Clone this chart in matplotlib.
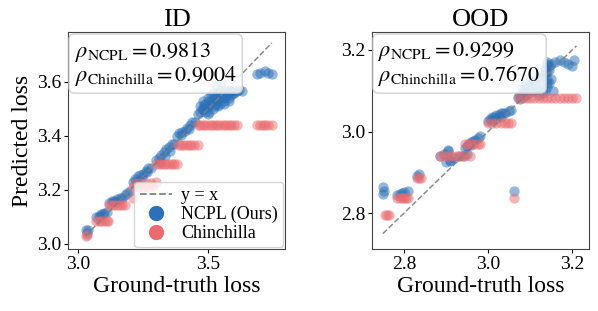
import numpy as np
import matplotlib
matplotlib.use("Agg")
import matplotlib.pyplot as plt
from matplotlib.lines import Line2D

plt.rcParams['font.family'] = ['Liberation Serif', 'DejaVu Serif']
plt.rcParams['mathtext.fontset'] = 'stix'

# ---------------- ID data ----------------
id_ncpl_x = [3.03, 3.035, 3.04,
             3.07, 3.08, 3.09, 3.10, 3.11, 3.085, 3.095,
             3.12, 3.13, 3.14, 3.15, 3.16, 3.17, 3.18, 3.135, 3.155,
             3.19, 3.20,
             3.21, 3.22, 3.23, 3.24, 3.25, 3.26, 3.27, 3.28, 3.225, 3.245, 3.265,
             3.30, 3.31, 3.32, 3.33, 3.34, 3.35, 3.36, 3.37, 3.315, 3.335, 3.355,
             3.38, 3.39, 3.40, 3.41, 3.42, 3.43, 3.44, 3.45, 3.395, 3.425,
             3.46, 3.47, 3.47, 3.48, 3.48, 3.49, 3.49, 3.50, 3.50, 3.51, 3.51, 3.52, 3.52,
             3.53, 3.53, 3.54, 3.54, 3.55, 3.55, 3.56, 3.56, 3.57, 3.57, 3.58, 3.58, 3.59,
             3.59, 3.60, 3.60, 3.61, 3.62, 3.63, 3.50, 3.52, 3.54, 3.56, 3.58, 3.53, 3.55,
             3.475, 3.485, 3.495, 3.505, 3.515, 3.525, 3.535, 3.545, 3.555, 3.565, 3.575,
             3.585, 3.595, 3.505, 3.525, 3.545, 3.565,
             3.69, 3.70, 3.72, 3.73, 3.745]
id_ncpl_y = [3.05, 3.04, 3.05,
             3.10, 3.105, 3.11, 3.115, 3.12, 3.10, 3.11,
             3.15, 3.16, 3.16, 3.165, 3.17, 3.17, 3.18, 3.155, 3.16,
             3.19, 3.195,
             3.23, 3.24, 3.25, 3.255, 3.26, 3.27, 3.28, 3.28, 3.235, 3.245, 3.265,
             3.31, 3.32, 3.33, 3.34, 3.35, 3.36, 3.37, 3.37, 3.305, 3.325, 3.345,
             3.40, 3.41, 3.415, 3.42, 3.43, 3.44, 3.45, 3.45, 3.405, 3.425,
             3.48, 3.49, 3.51, 3.50, 3.53, 3.49, 3.52, 3.51, 3.54, 3.52, 3.55, 3.53, 3.56,
             3.52, 3.55, 3.53, 3.56, 3.54, 3.57, 3.53, 3.56, 3.55, 3.57, 3.54, 3.56, 3.55,
             3.57, 3.56, 3.57, 3.565, 3.57, 3.565, 3.48, 3.50, 3.51, 3.52, 3.53, 3.59, 3.60,
             3.50, 3.515, 3.505, 3.53, 3.535, 3.54, 3.54, 3.545, 3.55, 3.545, 3.56,
             3.565, 3.56, 3.49, 3.51, 3.52, 3.54,
             3.63, 3.635, 3.64, 3.635, 3.63]

id_chin_x = [3.03, 3.035,
             3.07, 3.08, 3.09, 3.10, 3.11, 3.115,
             3.12, 3.13, 3.14, 3.15, 3.16, 3.17, 3.18, 3.21,
             3.21, 3.22, 3.23, 3.24, 3.25, 3.26, 3.27, 3.28, 3.29, 3.30,
             3.30, 3.31, 3.32, 3.33, 3.34, 3.35, 3.36, 3.37, 3.38,
             3.385, 3.395, 3.405, 3.415, 3.425, 3.435, 3.445, 3.46,
             3.46, 3.47, 3.48, 3.49, 3.50, 3.51, 3.52, 3.53, 3.54, 3.55, 3.56, 3.57, 3.58,
             3.59, 3.60, 3.61,
             3.69, 3.70, 3.71, 3.72, 3.73, 3.745]
id_chin_y = [3.03, 3.035,
             3.085, 3.085, 3.085, 3.085, 3.085, 3.085,
             3.145, 3.145, 3.145, 3.145, 3.145, 3.145, 3.145, 3.17,
             3.21, 3.225, 3.21, 3.225, 3.21, 3.225, 3.21, 3.225, 3.215, 3.23,
             3.295, 3.295, 3.295, 3.295, 3.295, 3.295, 3.295, 3.295, 3.295,
             3.365, 3.365, 3.365, 3.365, 3.365, 3.365, 3.365, 3.365,
             3.44, 3.44, 3.44, 3.44, 3.44, 3.44, 3.44, 3.44, 3.44, 3.44, 3.44, 3.44, 3.44,
             3.44, 3.44, 3.44,
             3.44, 3.44, 3.44, 3.44, 3.44, 3.44]

# ---------------- OOD data ----------------
ood_ncpl_x = [2.75, 2.75, 2.752,
              2.783, 2.79, 2.80, 2.81, 2.795,
              2.83, 2.835,
              2.886, 2.895, 2.905, 2.91, 2.92, 2.93, 2.94, 2.95, 2.90, 2.91, 2.905,
              2.945, 2.95, 2.955, 2.96, 2.965, 2.97, 2.975, 2.98, 2.96,
              3.0, 3.005, 3.01, 3.015, 3.02, 3.025, 3.03, 3.035, 3.04, 3.05, 3.055, 3.01, 3.02, 3.03,
              3.061,
              3.07, 3.075, 3.08, 3.085, 3.09, 3.095, 3.10, 3.105, 3.11, 3.115, 3.12, 3.125,
              3.13, 3.135, 3.14, 3.145, 3.15, 3.08, 3.09, 3.10, 3.11, 3.12, 3.13, 3.14,
              3.135, 3.14, 3.145, 3.14, 3.15, 3.16, 3.17, 3.18, 3.19, 3.2, 3.205,
              3.12, 3.13, 3.155, 3.075, 3.085,
              3.135, 3.14, 3.145, 3.14, 3.135, 3.095, 3.105, 3.115, 3.09, 3.1]
ood_ncpl_y = [2.865, 2.848, 2.855,
              2.845, 2.848, 2.852, 2.855, 2.85,
              2.892, 2.896,
              2.94, 2.945, 2.952, 2.93, 2.935, 2.94, 2.94, 2.945, 2.925, 2.928, 2.955,
              2.96, 2.965, 2.97, 2.975, 2.978, 2.98, 2.985, 2.99, 2.968,
              3.025, 3.03, 3.035, 3.035, 3.04, 3.04, 3.045, 3.045, 3.045, 3.05, 3.053, 3.028, 3.03, 3.035,
              2.855,
              3.085, 3.09, 3.095, 3.10, 3.105, 3.11, 3.115, 3.12, 3.125, 3.13, 3.13, 3.135,
              3.14, 3.14, 3.145, 3.15, 3.13, 3.11, 3.12, 3.125, 3.10, 3.105, 3.11, 3.12,
              3.155, 3.165, 3.16, 3.17, 3.165, 3.17, 3.175, 3.17, 3.165, 3.16, 3.175,
              3.09, 3.095, 3.10, 3.08, 3.085,
              3.10, 3.11, 3.12, 3.13, 3.15, 3.095, 3.10, 3.105, 3.09, 3.11]

ood_chin_x = [2.755, 2.76, 2.765,
              2.783, 2.79, 2.795, 2.80, 2.805, 2.81,
              2.83, 2.835, 2.84,
              2.886, 2.895, 2.905, 2.915, 2.925, 2.935, 2.945, 2.957,
              2.945, 2.952, 2.96, 2.967, 2.975, 2.98,
              3.0, 3.01, 3.02, 3.03, 3.04, 3.048, 3.055,
              3.061,
              3.07, 3.08, 3.09, 3.10, 3.11, 3.12, 3.13, 3.14, 3.15, 3.16, 3.17, 3.18, 3.19, 3.20, 3.21]
ood_chin_y = [2.796, 2.796, 2.796,
              2.838, 2.838, 2.838, 2.838, 2.838, 2.838,
              2.886, 2.886, 2.886,
              2.939, 2.939, 2.939, 2.939, 2.939, 2.939, 2.939, 2.939,
              2.97, 2.97, 2.97, 2.97, 2.97, 2.97,
              3.022, 3.022, 3.022, 3.022, 3.022, 3.022, 3.022,
              2.838,
              3.083, 3.083, 3.083, 3.083, 3.083, 3.083, 3.083, 3.083, 3.083, 3.083, 3.083, 3.083, 3.083, 3.083, 3.083]

titles = ["ID", "OOD"]
rho_ncpl = ["0.9813", "0.9299"]
rho_chin = ["0.9004", "0.7670"]

BLUE = '#2b70b8'
RED = '#ec6a6e'

fig = plt.figure(figsize=(5.98, 3.11), dpi=100)
ax1 = fig.add_axes([0.1137, 0.199, 0.363, 0.698])
ax2 = fig.add_axes([0.622, 0.199, 0.363, 0.698])

panels = [
    (ax1, id_ncpl_x, id_ncpl_y, id_chin_x, id_chin_y),
    (ax2, ood_ncpl_x, ood_ncpl_y, ood_chin_x, ood_chin_y),
]

for i, (ax, nx, ny, cx, cy) in enumerate(panels):
    ax.scatter(nx, ny, s=55, color=BLUE, alpha=0.5, linewidths=0)
    ax.scatter(cx, cy, s=55, color=RED, alpha=0.5, linewidths=0)
    lo = min(min(nx), min(cx))
    hi = max(max(nx), max(cx))
    ax.plot([lo, hi], [lo, hi], ls='--', color='gray', lw=1.1, alpha=0.9)
    ax.set_title(titles[i], fontsize=19, pad=4)
    ax.set_xlabel("Ground-truth loss", fontsize=17, labelpad=2)
    ax.tick_params(labelsize=14, length=3, width=0.8, pad=2)
    for sp in ax.spines.values():
        sp.set_color('#444444')
    txt = (r"$\rho_{\mathrm{NCPL}} = %s$" "\n" r"$\rho_{\mathrm{Chinchilla}} = %s$"
           % (rho_ncpl[i], rho_chin[i]))
    ax.text(0.03, 0.965, txt, transform=ax.transAxes, fontsize=16, va='top', ha='left',
            linespacing=1.0,
            bbox=dict(boxstyle='round,pad=0.25', fc='white', ec='#cccccc', alpha=0.85))

ax1.set_ylabel("Predicted loss", fontsize=17, labelpad=3)
ax1.set_xlim(2.962, 3.796)
ax1.set_ylim(2.981, 3.785)
ax1.set_xticks([3.0, 3.5])
ax1.set_yticks([3.0, 3.2, 3.4, 3.6])

ax2.set_xlim(2.724, 3.24)
ax2.set_ylim(2.712, 3.244)
ax2.set_xticks([2.8, 3.0, 3.2])
ax2.set_yticks([2.8, 3.0, 3.2])

handles = [
    Line2D([], [], ls='--', color='gray', lw=1.3, label='y = x'),
    Line2D([], [], ls='', marker='o', markersize=10, color=BLUE, label='NCPL (Ours)'),
    Line2D([], [], ls='', marker='o', markersize=10, color=RED, label='Chinchilla'),
]
ax1.legend(handles=handles, loc='lower right', fontsize=13, handletextpad=0.5,
           borderpad=0.3, labelspacing=0.1, borderaxespad=0.1, handlelength=1.8)

fig.savefig("out.png", dpi=100)
